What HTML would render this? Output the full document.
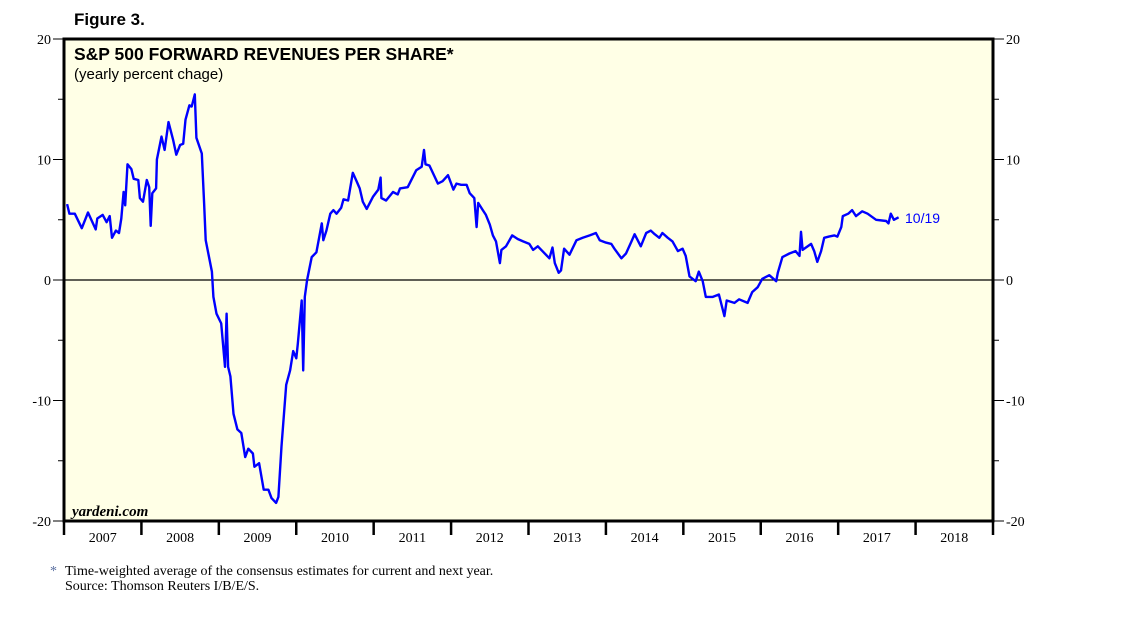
<!DOCTYPE html>
<html><head><meta charset="utf-8"><style>
body{margin:0;background:#fff;width:1138px;height:621px;overflow:hidden}
svg{display:block}
</style></head><body>
<svg id="chart" width="1138" height="621" xmlns="http://www.w3.org/2000/svg">
<text x="74" y="25" font-family="Liberation Sans, sans-serif" font-weight="bold" font-size="17">Figure 3.</text>
<rect x="64" y="39" width="929" height="482" fill="#ffffe6"/>
<g id="grid"></g>
<path id="series" fill="none" stroke="#0000ff" stroke-width="2.4" stroke-linejoin="round"/>
<rect x="64" y="39" width="929" height="482" fill="none" stroke="#000" stroke-width="3"/>
<text x="74" y="60" font-family="Liberation Sans, sans-serif" font-weight="bold" font-size="17.5">S&amp;P 500 FORWARD REVENUES PER SHARE*</text>
<text x="74" y="79" font-family="Liberation Sans, sans-serif" font-size="15">(yearly percent chage)</text>
<text x="72" y="516" font-family="Liberation Serif, serif" font-style="italic" font-weight="bold" font-size="15">yardeni.com</text>
<text x="905" y="223" font-family="Liberation Sans, sans-serif" font-size="14" fill="#0000ff">10/19</text>
<text x="50" y="575" font-family="Liberation Serif, serif" font-size="14" fill="#5a6fa0">*</text>
<text x="65" y="575" font-family="Liberation Serif, serif" font-size="14">Time-weighted average of the consensus estimates for current and next year.</text>
<text x="65" y="590" font-family="Liberation Serif, serif" font-size="14">Source: Thomson Reuters I/B/E/S.</text>
</svg>
<script>
const dates=[2007.04,2007.07,2007.14,2007.23,2007.31,2007.41,2007.43,2007.50,2007.55,2007.59,2007.62,2007.67,2007.71,2007.74,2007.77,2007.79,2007.82,2007.87,2007.90,2007.96,2007.98,2008.02,2008.07,2008.10,2008.12,2008.14,2008.19,2008.20,2008.26,2008.30,2008.35,2008.41,2008.45,2008.50,2008.54,2008.57,2008.62,2008.65,2008.69,2008.71,2008.78,2008.81,2008.83,2008.91,2008.93,2008.97,2009.03,2009.08,2009.10,2009.12,2009.15,2009.19,2009.24,2009.29,2009.34,2009.38,2009.44,2009.46,2009.52,2009.58,2009.64,2009.68,2009.74,2009.77,2009.81,2009.87,2009.92,2009.96,2010.00,2010.02,2010.07,2010.09,2010.11,2010.14,2010.20,2010.26,2010.33,2010.35,2010.39,2010.44,2010.48,2010.52,2010.58,2010.61,2010.67,2010.73,2010.78,2010.82,2010.86,2010.91,2010.99,2011.06,2011.09,2011.10,2011.16,2011.25,2011.31,2011.34,2011.44,2011.55,2011.62,2011.65,2011.67,2011.72,2011.83,2011.89,2011.96,2012.03,2012.07,2012.13,2012.20,2012.24,2012.30,2012.33,2012.35,2012.41,2012.45,2012.50,2012.54,2012.58,2012.63,2012.65,2012.71,2012.79,2012.86,2012.93,2013.01,2013.06,2013.12,2013.18,2013.27,2013.31,2013.34,2013.39,2013.42,2013.46,2013.53,2013.62,2013.70,2013.79,2013.87,2013.92,2014.00,2014.07,2014.11,2014.20,2014.26,2014.33,2014.37,2014.45,2014.52,2014.58,2014.63,2014.69,2014.73,2014.80,2014.86,2014.93,2014.99,2015.03,2015.08,2015.16,2015.20,2015.25,2015.29,2015.38,2015.46,2015.53,2015.56,2015.66,2015.72,2015.83,2015.89,2015.96,2016.02,2016.11,2016.20,2016.22,2016.28,2016.37,2016.45,2016.50,2016.52,2016.54,2016.65,2016.69,2016.73,2016.78,2016.82,2016.88,2016.95,2016.99,2017.04,2017.06,2017.13,2017.18,2017.23,2017.31,2017.38,2017.49,2017.62,2017.65,2017.68,2017.72,2017.78];
const values=[6.3,5.5,5.5,4.3,5.6,4.2,5.1,5.4,4.8,5.3,3.5,4.1,3.9,5.1,7.3,6.2,9.6,9.2,8.4,8.3,6.8,6.5,8.3,7.7,4.5,7.2,7.6,10.0,11.9,10.8,13.1,11.6,10.4,11.2,11.3,13.3,14.5,14.4,15.4,11.8,10.5,6.4,3.3,0.7,-1.4,-2.8,-3.6,-7.2,-2.8,-7.2,-8.0,-11.1,-12.4,-12.7,-14.7,-14.0,-14.4,-15.5,-15.2,-17.4,-17.4,-18.1,-18.5,-18.0,-13.8,-8.7,-7.5,-5.9,-6.5,-5.3,-1.7,-7.5,-1.4,0,1.9,2.3,4.7,3.3,4.1,5.5,5.8,5.5,6.0,6.7,6.6,8.9,8.2,7.6,6.5,5.9,6.9,7.5,8.5,6.8,6.6,7.3,7.1,7.6,7.7,9.1,9.4,10.8,9.6,9.5,8.0,8.2,8.7,7.5,8.0,7.9,7.9,7.2,6.8,4.4,6.4,5.8,5.4,4.6,3.7,3.2,1.4,2.5,2.8,3.7,3.4,3.2,3.0,2.5,2.8,2.4,1.8,2.7,1.4,0.6,0.8,2.6,2.1,3.3,3.5,3.7,3.9,3.3,3.1,3.0,2.6,1.8,2.2,3.2,3.8,2.8,3.9,4.1,3.8,3.5,3.9,3.5,3.2,2.4,2.6,2.0,0.3,-0.1,0.7,-0.1,-1.4,-1.4,-1.2,-3.0,-1.7,-1.9,-1.6,-1.9,-1.0,-0.6,0.1,0.4,-0.1,0.6,1.9,2.2,2.4,2.0,4.0,2.5,3.0,2.4,1.5,2.4,3.5,3.6,3.7,3.6,4.4,5.3,5.5,5.8,5.3,5.7,5.5,5.0,4.9,4.7,5.5,5.0,5.2];
const yTicks=[20,10,0,-10,-20];
const yearLabels=["2007","2008","2009","2010","2011","2012","2013","2014","2015","2016","2017","2018"];
const X0=64,X1=993,Y0=39,Y1=521,xMin=2007,xMax=2019,yMin=-20,yMax=20;
const sx=d=>X0+(d-xMin)/(xMax-xMin)*(X1-X0);
const sy=v=>Y1-(v-yMin)/(yMax-yMin)*(Y1-Y0);
const NS="http://www.w3.org/2000/svg";
const svg=document.getElementById('chart');
const g=document.getElementById('grid');
function mk(tag,attrs,parent){const e=document.createElementNS(NS,tag);for(const k in attrs)e.setAttribute(k,attrs[k]);(parent||g).appendChild(e);return e;}
// zero line
const z=mk('line',{x1:X0,x2:X1,y1:sy(0),y2:sy(0),stroke:'#000','stroke-width':1.2});


for(let v=yMin;v<=yMax;v+=5){
  const major=v%10===0;
  const l=mk('line',{x1:X0-(major?11:6),x2:X0,y1:sy(v),y2:sy(v),stroke:'#000','stroke-width':1},svg);
  
  
  const r=mk('line',{x1:X1,x2:X1+(major?11:6),y1:sy(v),y2:sy(v),stroke:'#000','stroke-width':1},svg);
  
  
}
yTicks.forEach(v=>{
  const t=mk('text',{x:X0-13,y:sy(v)+5,'text-anchor':'end','font-family':'Liberation Serif, serif','font-size':14},svg);
  t.textContent=v;
  
  
  const t2=mk('text',{x:X1+13,y:sy(v)+5,'font-family':'Liberation Serif, serif','font-size':14},svg);
  t2.textContent=v;
  
  
});
for(let i=0;i<=yearLabels.length;i++){
  const x=sx(xMin+i);
  const tk=mk('line',{x1:x,x2:x,y1:Y1,y2:Y1+14,stroke:'#000','stroke-width':2.5},svg);
  
  
}
yearLabels.forEach((lab,i)=>{
  const t=mk('text',{x:sx(xMin+i+0.5),y:Y1+21,'text-anchor':'middle','font-family':'Liberation Serif, serif','font-size':14},svg);
  t.textContent=lab;
  
  
});
document.getElementById('series').setAttribute('d',dates.map((d,i)=>(i?'L':'M')+sx(d).toFixed(1)+','+sy(values[i]).toFixed(1)).join(''));
</script>
</body></html>
